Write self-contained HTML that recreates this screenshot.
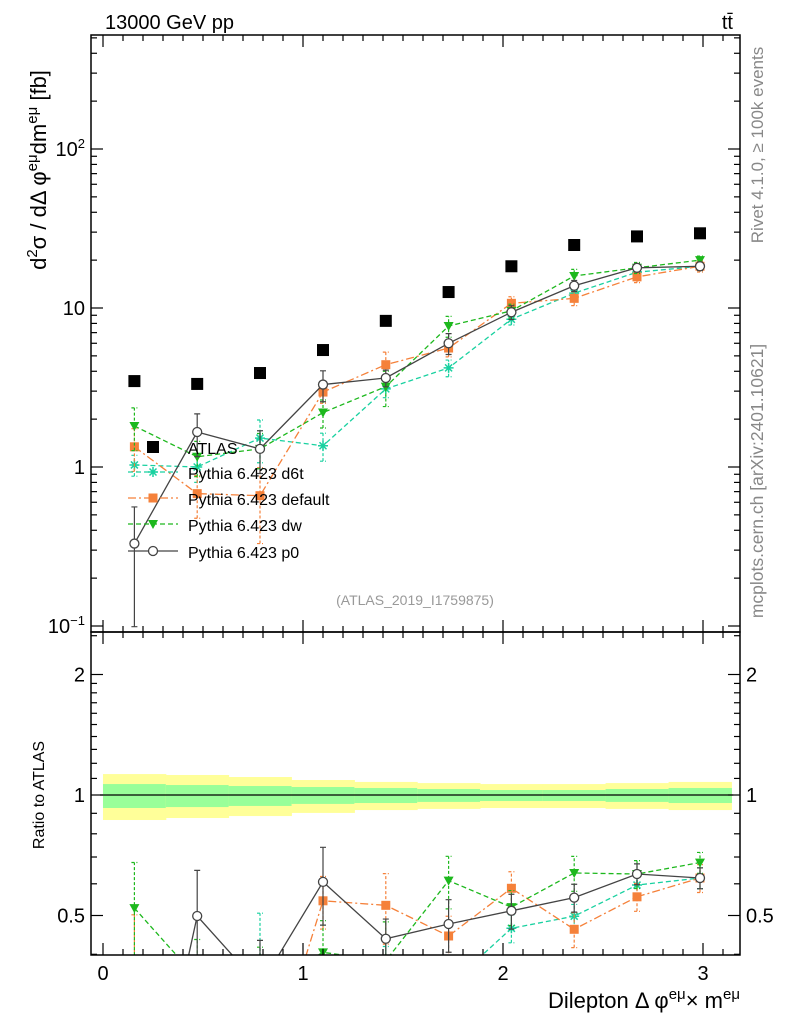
<!DOCTYPE html>
<html><head><meta charset="utf-8"><style>
html,body{margin:0;background:#fff;overflow:hidden;width:786px;height:1024px}
svg{display:block;font-family:"Liberation Sans",sans-serif}
</style></head><body>
<svg id="c" width="786" height="1024" xmlns="http://www.w3.org/2000/svg">
<defs>
<clipPath id="clipM"><rect x="91" y="35" width="649" height="597"/></clipPath>
<clipPath id="clipR"><rect x="91" y="632" width="649" height="323"/></clipPath>
</defs>
<g id="bands" clip-path="url(#clipR)"></g>
<g id="main" clip-path="url(#clipM)"></g>
<g id="ratio" clip-path="url(#clipR)"></g>
<g id="axes"></g>
<text x="105" y="29" font-size="20">13000 GeV pp</text>
<text x="733" y="29" font-size="20" text-anchor="end">tt̄</text>
<text transform="translate(763,145) rotate(-90)" font-size="17" fill="#888" text-anchor="middle">Rivet 4.1.0, ≥ 100k events</text>
<text transform="translate(763,481) rotate(-90)" font-size="17.5" fill="#888" text-anchor="middle">mcplots.cern.ch [arXiv:2401.10621]</text>
<text x="415" y="605" font-size="14" fill="#999" text-anchor="middle">(ATLAS_2019_I1759875)</text>
<text transform="translate(46,170) rotate(-90)" font-size="22" text-anchor="middle">d<tspan font-size="15" dy="-9">2</tspan><tspan dy="9">σ / dΔ φ</tspan><tspan font-size="15" dy="-9">eμ</tspan><tspan dy="9">dm</tspan><tspan font-size="15" dy="-9">eμ</tspan><tspan dy="9"> [fb]</tspan></text>
<text transform="translate(44,795) rotate(-90)" font-size="16" text-anchor="middle">Ratio to ATLAS</text>
<text x="740" y="1008" font-size="22" text-anchor="end">Dilepton Δ φ<tspan font-size="15" dy="-9">eμ</tspan><tspan dy="9">× m</tspan><tspan font-size="15" dy="-9">eμ</tspan></text>
<g id="legend"></g>
</svg>
<script>
const centers=[0.157,0.471,0.785,1.100,1.414,1.728,2.042,2.356,2.670,2.985];
const atlas=[3.47,3.33,3.9,5.44,8.3,12.6,18.3,24.9,28.2,29.5];
const d6t=[1.03,1.0,1.52,1.36,3.1,4.2,8.5,12.4,16.8,18.3];
const dflt=[1.34,0.68,0.66,2.96,4.4,5.6,10.7,11.5,15.7,18.3];
const dw=[1.81,1.16,1.3,2.2,3.2,7.7,9.6,15.9,17.9,20.0];
const p0=[0.33,1.66,1.3,3.3,3.63,6.0,9.4,13.8,17.9,18.3];
const d6tErr=[0.15,0.2,0.3,0.2,0.12,0.12,0.08,0.07,0.06,0.06];
const dfltErr=[0.3,0.3,0.5,0.15,0.2,0.12,0.1,0.1,0.08,0.08];
const dwErr=[0.3,0.25,0.25,0.2,0.25,0.15,0.1,0.1,0.08,0.06];
const p0Err=[0.7,0.3,0.3,0.22,0.12,0.15,0.1,0.08,0.06,0.06];
const bandYUp=[1.128,1.122,1.109,1.090,1.078,1.071,1.065,1.065,1.071,1.078];
const bandYDn=[0.866,0.876,0.886,0.902,0.917,0.923,0.928,0.928,0.923,0.917];
const bandGUp=[1.065,1.059,1.053,1.047,1.041,1.035,1.029,1.029,1.035,1.041];
const bandGDn=[0.928,0.933,0.939,0.950,0.955,0.961,0.966,0.966,0.961,0.955];
const NS="http://www.w3.org/2000/svg";
const X=v=>103+200*v;
const Y=v=>467-159*Math.log10(v);
const R=v=>795-120.5*Math.log2(v);
function mk(t,a,p){const e=document.createElementNS(NS,t);for(const k in a)e.setAttribute(k,a[k]);(p||document.getElementById('c')).appendChild(e);return e;}
const bw=Math.PI/10;
const bands=document.getElementById('bands');
centers.forEach((c,i)=>{
 let r=mk('rect',{x:X(c-bw/2),y:R(bandYUp[i]),width:200*bw+0.5,height:R(bandYDn[i])-R(bandYUp[i]),fill:'#ffff99'},bands);
 
 
 let g=mk('rect',{x:X(c-bw/2),y:R(bandGUp[i]),width:200*bw+0.5,height:R(bandGDn[i])-R(bandGUp[i]),fill:'#99ff99'},bands);
 
 
});
let ol=mk('line',{x1:X(0)-3,x2:X(Math.PI)+2,y1:R(1),y2:R(1),stroke:'#000','stroke-width':1.3},bands);


const main=document.getElementById('main'), ratio=document.getElementById('ratio');
function marker(type,x,y,col,p){
 let e;
 if(type==='sq') e=mk('rect',{x:x-4.5,y:y-4.5,width:9,height:9,fill:col},p);
 else if(type==='bsq') e=mk('rect',{x:x-6,y:y-6,width:12,height:12,fill:col},p);
 else if(type==='tri') e=mk('path',{d:`M${x-5} ${y-4}L${x+5} ${y-4}L${x} ${y+5}Z`,fill:col},p);
 else if(type==='circ') e=mk('circle',{cx:x,cy:y,r:4.5,fill:'#fff',stroke:col,'stroke-width':1.3},p);
 else { e=mk('path',{d:`M${x-5} ${y}H${x+5}M${x} ${y-5}V${y+5}M${x-3.5} ${y-3.5}L${x+3.5} ${y+3.5}M${x-3.5} ${y+3.5}L${x+3.5} ${y-3.5}`,stroke:col,'stroke-width':1.5},p); }
 return e;
}
const series=[
 {name:'d6t',vals:d6t,err:d6tErr,col:'#19d1a0',m:'star',dash:'5,3'},
 {name:'default',vals:dflt,err:dfltErr,col:'#f5813a',m:'sq',dash:'8,3,2,3'},
 {name:'dw',vals:dw,err:dwErr,col:'#1db81d',m:'tri',dash:'5,3'},
 {name:'p0',vals:p0,err:p0Err,col:'#444',m:'circ',dash:'none'}
];
series.forEach(s=>{
 [[main,Y,v=>v],[ratio,R,(v,i)=>v/atlas[i]]].forEach(([p,F,tr],pi)=>{
  const pts=s.vals.map((v,i)=>[X(centers[i]),F(tr(v,i))]);
  let pl=mk('polyline',{points:pts.map(q=>q.join(',')).join(' '),fill:'none',stroke:s.col,'stroke-width':1.3,'stroke-dasharray':s.dash},p);
  
  
  s.vals.forEach((v,i)=>{
   const x=X(centers[i]),val=tr(v,i),lo=val*(1-s.err[i]),hi=val*(1+s.err[i]);
   let eb=mk('path',{d:`M${x} ${F(lo)}V${F(hi)}M${x-3} ${F(lo)}H${x+3}M${x-3} ${F(hi)}H${x+3}`,stroke:s.col,'stroke-width':1.2,'stroke-dasharray':s.dash==='none'?'none':'3,2'},p);
   
   
   let m=marker(s.m,x,F(val),s.col,p);
   
   
  });
 });
});
atlas.forEach((v,i)=>{
 let m=marker('bsq',X(centers[i]),Y(v),'#000',main);
 
 
});
const ax=document.getElementById('axes');
let f1=mk('rect',{x:91,y:35,width:649,height:597,fill:'none',stroke:'#000','stroke-width':1.5},ax);


let f2=mk('rect',{x:91,y:632,width:649,height:323,fill:'none',stroke:'#000','stroke-width':1.5},ax);


function tk(x1,y1,x2,y2){mk('line',{x1,y1,x2,y2,stroke:'#000','stroke-width':1.2},ax);}
function lbl(x,y,t,anc,fs,name){const e=mk('text',{x,y,'font-size':fs||20,'text-anchor':anc},ax);e.innerHTML=t;return e;}
for(let d=-2;d<=2;d++)for(let k=1;k<10;k++){
 const v=k*Math.pow(10,d),y=Y(v);if(y<35||y>632)continue;
 const L=k===1?12:6;tk(91,y,91+L,y);tk(740,y,740-L,y);
}
lbl(85,Y(100)+7,'10<tspan font-size="13" dy="-8">2</tspan>','end',20,'y-tick-100');
lbl(85,Y(10)+7,'10','end',20,'y-tick-10');
lbl(85,Y(1)+7,'1','end',20,'y-tick-1');
lbl(85,Y(0.1)+7,'10<tspan font-size="13" dy="-8">−1</tspan>','end',20,'y-tick-0.1');
[0.4,0.5,0.6,0.7,0.8,0.9,1,1.1,1.2,1.3,1.4,1.5,1.6,1.7,1.8,1.9,2,2.5].forEach(v=>{const y=R(v);if(y<632||y>955)return;const L=(v===0.5||v===1||v===2)?12:6;tk(91,y,91+L,y);tk(740,y,740-L,y);});
[[2,'2'],[1,'1'],[0.5,'0.5']].forEach(([v,t])=>{lbl(85,R(v)+7,t,'end',20,'ratio-tick-left-'+t);lbl(746,R(v)+7,t,'start',20,'ratio-tick-right-'+t);});
for(let i=0;i<=31;i++){const v=i*0.1,x=X(v);if(x>740)break;const L=i%10===0?12:6;tk(x,955,x,955-L);tk(x,632,x,632+L);tk(x,35,x,35+L);tk(x,632,x,632-L);}
[0,1,2,3].forEach(v=>lbl(X(v),980,String(v),'middle',20,'x-tick-'+v));
const lg=document.getElementById('legend');
const ly=[447,472,498,524,551];
let a=marker('bsq',153,ly[0],'#000',lg);


const names=['ATLAS','Pythia 6.423 d6t','Pythia 6.423 default','Pythia 6.423 dw','Pythia 6.423 p0'];
names.forEach((n,i)=>{const t=mk('text',{x:188,y:ly[i]+7,'font-size':16},lg);t.textContent=n;});
series.forEach((s,i)=>{
 const y=ly[i+1];
 let l=mk('line',{x1:128,x2:178,y1:y,y2:y,stroke:s.col,'stroke-width':1.3,'stroke-dasharray':s.dash},lg);
 
 
 let m=marker(s.m,153,y,s.col,lg);
 
 
});
</script>
</body></html>
